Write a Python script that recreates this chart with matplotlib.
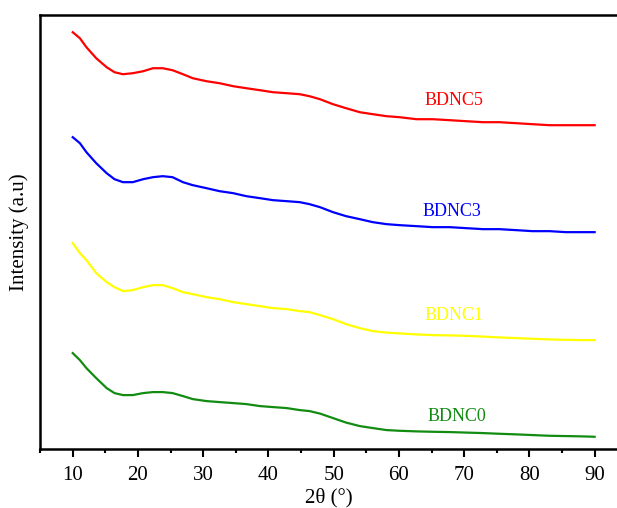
import numpy as np
import matplotlib.pyplot as plt
from matplotlib.ticker import MultipleLocator

plt.rcParams['font.family'] = ['Liberation Serif', 'DejaVu Serif']

# 2theta grid (degrees) and intensities (a.u.)
two_theta = [10.0, 11.1, 12.1, 13.6, 15.2, 16.4, 17.7, 19.2, 20.8, 22.3, 23.8,
             25.3, 26.9, 28.4, 30.5, 32.5, 34.6, 36.6, 38.7, 40.7, 42.8, 44.8,
             46.3, 47.9, 49.9, 51.9, 54.0, 56.0, 58.1, 60.1, 62.7, 65.2, 67.8,
             70.3, 72.9, 75.4, 78.0, 80.5, 83.1, 85.6, 88.1, 90.0]

bdnc5 = [417, 411, 402, 391, 382, 377, 375, 376, 378, 381, 381, 379, 375, 371,
         368, 366, 363, 361, 359, 357, 356, 355, 353, 350, 345, 341, 337, 335,
         333, 332, 330, 330, 329, 328, 327, 327, 326, 325, 324, 324, 324, 324]

bdnc3 = [312, 306, 297, 286, 276, 270, 267, 267, 270, 272, 273, 272, 267, 264,
         261, 258, 256, 253, 251, 249, 248, 247, 245, 242, 237, 233, 230, 227,
         225, 224, 223, 222, 222, 221, 220, 220, 219, 218, 218, 217, 217, 217]

bdnc1 = [206, 196, 189, 176, 167, 162, 158, 159, 162, 164, 164, 161, 157, 155,
         152, 150, 147, 145, 143, 141, 140, 138, 137, 134, 130, 125, 121, 118,
         116.5, 115.7, 114.7, 114, 113.7, 113.3, 112.5, 111.7, 111, 110.3,
         109.7, 109.3, 109, 109]

bdnc0 = [96, 89, 81, 71, 61, 56, 54, 54, 56, 57, 57, 56, 53, 50, 48, 47, 46,
         45, 43, 42, 41, 39, 38, 35.5, 31, 26.5, 23, 21, 19, 18.3, 17.7, 17.3,
         17, 16.5, 16, 15.3, 14.7, 14, 13.3, 13, 12.7, 12.3]

names = ['BDNC5', 'BDNC3', 'BDNC1', 'BDNC0']
series = [bdnc5, bdnc3, bdnc1, bdnc0]
colors = ['#ff0000', '#0000ff', '#ffff00', '#118c11']
label_pos = [(68.4, 349), (68.2, 238), (68.4, 134), (68.9, 33)]

fig = plt.figure(figsize=(6.17, 5.08), dpi=100)
ax = fig.add_axes([0.065, 0.116, 0.935, 0.854])

for name, vals, c, (lx, ly) in zip(names, series, colors, label_pos):
    ax.plot(two_theta, vals, color=c, lw=1.6)
    ax.text(lx, ly, name, color=c, fontsize=13, ha='center', va='center')

ax.set_xlim(5, 93.43)
ax.set_ylim(0, 434)
ax.xaxis.set_major_locator(MultipleLocator(10))
ax.xaxis.set_minor_locator(MultipleLocator(5))
ax.set_yticks([])
ax.tick_params(axis='x', which='major', direction='out', length=6, width=1.5,
               labelsize=15, pad=6)
ax.tick_params(axis='x', which='minor', direction='out', length=3, width=1.5)
for s in ['left', 'bottom', 'top']:
    ax.spines[s].set_linewidth(1.8)
ax.spines['right'].set_visible(False)

ax.set_xlabel('2θ (°)', fontsize=15, labelpad=2)
ax.set_ylabel('Intensity (a.u)', fontsize=15, labelpad=8)

fig.savefig('out.png', dpi=100)
